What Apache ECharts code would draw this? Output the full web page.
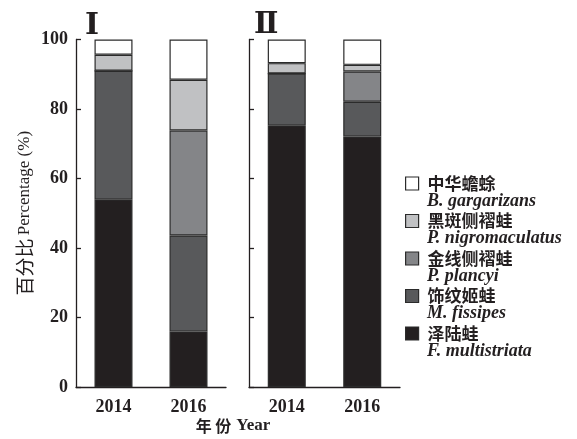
<!DOCTYPE html>
<html>
<head>
<meta charset="utf-8">
<script src="https://cdn.jsdelivr.net/npm/echarts@6/dist/echarts.min.js"></script>
<style>
  html, body { margin: 0; padding: 0; background: #fff; }
  #chart { width: 577px; height: 439px; }
</style>
</head>
<body>
<div id="chart"></div>
<script>
// Survey years
const years = ['2014', '2016'];

// Species (Chinese common name) and Latin names, bottom of stack first
const speciesCn = ['泽陆蛙', '饰纹姬蛙', '金线侧褶蛙', '黑斑侧褶蛙', '中华蟾蜍'];
const speciesLatin = ['F. multistriata', 'M. fissipes', 'P. plancyi', 'P. nigromaculatus', 'B. gargarizans'];

// Panel I — percentage of each species
const fMultistriataI = [54.0, 16.0];
const mFissipesI = [37.0, 27.6];
const pPlancyiI = [0, 30.2];
const pNigromaculatusI = [4.6, 14.6];
const bGargarizansI = [4.4, 11.6];

// Panel II — percentage of each species
const fMultistriataII = [75.3, 72.1];
const mFissipesII = [14.9, 10.0];
const pPlancyiII = [0, 8.7];
const pNigromaculatusII = [3.0, 1.9];
const bGargarizansII = [6.8, 7.3];

// Y axis ticks
const yTicks = { min: 0, max: 100, step: 20 };

const fills = ['#231f20', '#58595b', '#848588', '#c0c1c3', '#ffffff'];
const edge = '#2b2b2b';
const serif = "'Liberation Serif', 'DejaVu Serif', serif";
const cjkSans = "'Noto Sans CJK SC', sans-serif";

const panelI = [fMultistriataI, mFissipesI, pPlancyiI, pNigromaculatusI, bGargarizansI];
const panelII = [fMultistriataII, mFissipesII, pPlancyiII, pNigromaculatusII, bGargarizansII];

function makeSeries(values, idx, stackName) {
  return values.map((data, i) => ({
    name: speciesCn[i],
    type: 'bar',
    stack: stackName,
    xAxisIndex: idx,
    yAxisIndex: idx,
    barWidth: 38,
    data: data,
    itemStyle: { color: fills[i], borderColor: edge, borderWidth: 1.2 },
    emphasis: { disabled: true }
  }));
}

const latinOf = {};
speciesCn.forEach((n, i) => { latinOf[n] = speciesLatin[i]; });
const legendOrder = speciesCn.slice().reverse();

const axisLineStyle = { color: '#231f20', width: 1.3 };

function xAxisCfg(gridIndex) {
  return {
    type: 'category',
    gridIndex: gridIndex,
    data: years,
    axisLine: { lineStyle: axisLineStyle },
    axisTick: { inside: true, length: 5, lineStyle: axisLineStyle },
    axisLabel: { color: '#231f20', fontFamily: serif, fontWeight: 'bold', fontSize: 18, margin: 11 }
  };
}

function yAxisCfg(gridIndex, showLabels) {
  return {
    type: 'value',
    gridIndex: gridIndex,
    min: yTicks.min,
    max: yTicks.max,
    interval: yTicks.step,
    splitLine: { show: false },
    axisLine: { show: true, lineStyle: axisLineStyle },
    axisTick: { show: true, inside: true, length: 5, lineStyle: axisLineStyle },
    axisLabel: { show: showLabels, color: '#231f20', fontFamily: serif, fontWeight: 'bold', fontSize: 18, margin: 8 },
    name: showLabels ? '{cn|百分比} {en|Percentage (%)}' : '',
    nameLocation: 'middle',
    nameRotate: 90,
    nameGap: 42,
    nameTextStyle: {
      color: '#231f20',
      rich: {
        cn: { fontFamily: cjkSans, fontSize: 19, color: '#231f20' },
        en: { fontFamily: serif, fontSize: 17, color: '#231f20' }
      }
    }
  };
}

const chart = echarts.init(document.getElementById('chart'), null, { renderer: 'canvas' });
chart.setOption({
  animation: false,
  backgroundColor: '#ffffff',
  title: [
    { text: 'Ⅰ', left: 80, top: 6, textStyle: { fontFamily: serif, fontWeight: 'bold', fontSize: 30, color: '#231f20' } },
    { text: 'Ⅱ', left: 249, top: 6, textStyle: { fontFamily: serif, fontWeight: 'bold', fontSize: 29, color: '#231f20' } },
    {
      text: '{cn|年 份} {en|Year}', left: 228, top: 412, textAlign: 'center',
      textStyle: {
        rich: {
          cn: { fontFamily: cjkSans, fontWeight: 'bold', fontSize: 16, color: '#231f20' },
          en: { fontFamily: serif, fontWeight: 'bold', fontSize: 17, color: '#231f20' }
        }
      }
    }
  ],
  legend: [
    {
      data: legendOrder,
      orient: 'vertical',
      left: 400,
      top: 168.5,
      itemWidth: 13,
      itemHeight: 13,
      itemGap: 17.5,
      selectedMode: false,
      icon: 'rect',
      itemStyle: { borderColor: edge, borderWidth: 1.2 },
      textStyle: { fontFamily: cjkSans, fontWeight: 'bold', fontSize: 17, lineHeight: 20, color: '#231f20', padding: [0, 0, 0, 4] }
    },
    {
      data: legendOrder,
      orient: 'vertical',
      left: 416,
      top: 186,
      itemWidth: 1,
      itemHeight: 1,
      itemGap: 17.5,
      selectedMode: false,
      icon: 'rect',
      itemStyle: { opacity: 0, borderWidth: 0 },
      formatter: (name) => latinOf[name],
      textStyle: { fontFamily: serif, fontWeight: 'bold', fontStyle: 'italic', fontSize: 18, lineHeight: 20, color: '#231f20' }
    }
  ],
  grid: [
    { left: 76, top: 39.5, width: 150, height: 347.5 },
    { left: 249, top: 39.5, width: 151, height: 347.5 }
  ],
  xAxis: [xAxisCfg(0), xAxisCfg(1)],
  yAxis: [yAxisCfg(0, true), yAxisCfg(1, false)],
  series: makeSeries(panelI, 0, 'I').concat(makeSeries(panelII, 1, 'II'))
});
</script>
</body>
</html>
